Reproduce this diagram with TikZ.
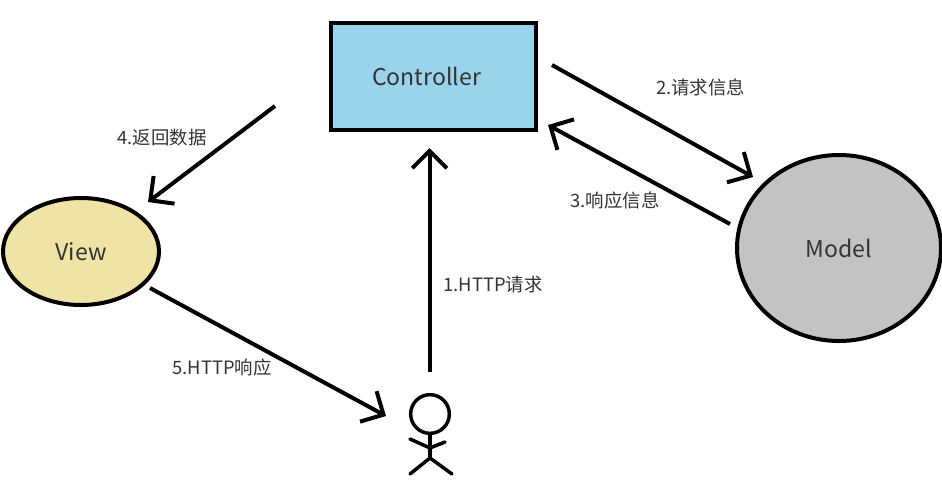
\documentclass[tikz,border=0pt]{standalone}
\usepackage{fontspec}
\setmainfont{Noto Sans CJK SC}
\usetikzlibrary{arrows.meta,shapes.geometric}
\definecolor{ctrlblue}{HTML}{9AD4EC}
\definecolor{viewyellow}{HTML}{EFE4A6}
\definecolor{modelgray}{HTML}{C3C3C3}
\definecolor{labelgray}{HTML}{333333}
\tikzset{
	box/.style={draw=black, line width=3pt, inner sep=0pt, text=labelgray, font=\fontsize{17.3}{20}\selectfont},
	flow/.style={line width=3pt, -{Straight Barb[length=13pt, width=26pt, line width=3pt]}},
	stick/.style={line width=2.6pt, line cap=round, line join=round},
	tag/.style={text=labelgray, inner sep=0pt, font=\fontsize{13.8}{16}\selectfont}
}

\begin{document}
\begin{tikzpicture}[x=0.75pt, y=-0.75pt]
	\useasboundingbox (0, 0) rectangle (942, 487);

	%%%%% NODES %%%%%
	\node[box, fill=ctrlblue, minimum width=153.75pt, minimum height=80.25pt] (controller) at (433.5, 76.5) {Controller\rule{10.5pt}{0pt}};
	\node[box, fill=viewyellow, ellipse, minimum width=117pt, minimum height=80.25pt] (view) at (81, 251.5) {View};
	\node[box, fill=modelgray, ellipse, minimum width=153pt, minimum height=139.5pt] (model) at (839, 248) {Model};

	%%%%% PERSON %%%%%
	\node[draw=black, line width=2.6pt, circle, minimum size=29pt, inner sep=0pt] (head) at (430, 414) {};
	\coordinate (hip) at (430, 458);
	\coordinate (chest) at (430, 448);
	\draw[stick] (head.south) -- (hip);
	\draw[stick] (410, 439) -- (chest) -- (445, 442);
	\draw[stick] (410, 474) -- (hip) -- (452, 474);

	%%%%% ARROW ENDS %%%%%
	\coordinate (userOut) at (429.5, 372);
	\coordinate (ctrlIn) at (429.5, 148);
	\coordinate (ctrlOut) at (552, 65);
	\coordinate (modelIn) at (753, 177);
	\coordinate (modelOut) at (730, 224);
	\coordinate (ctrlBack) at (548, 125);
	\coordinate (ctrlLeft) at (275, 106);
	\coordinate (viewIn) at (148, 202);
	\coordinate (viewOut) at (150, 288);
	\coordinate (userIn) at (386, 416);

	\draw[flow] (userOut) -- (ctrlIn);
	\draw[flow] (ctrlOut) -- (modelIn);
	\draw[flow] (modelOut) -- (ctrlBack);
	\draw[flow] (ctrlLeft) -- (viewIn);
	\draw[flow] (viewOut) -- (userIn);

	%%%%% LABELS %%%%%
	\node[tag] (reqHttp) at (493, 285) {1.HTTP请求};
	\node[tag] (reqInfo) at (700.5, 87) {2.请求信息};
	\node[tag] (resInfo) at (615, 200) {3.响应信息};
	\node[tag] (resData) at (162, 138) {4.返回数据};
	\node[tag] (resHttp) at (222, 367) {5.HTTP响应};
\end{tikzpicture}
\end{document}
